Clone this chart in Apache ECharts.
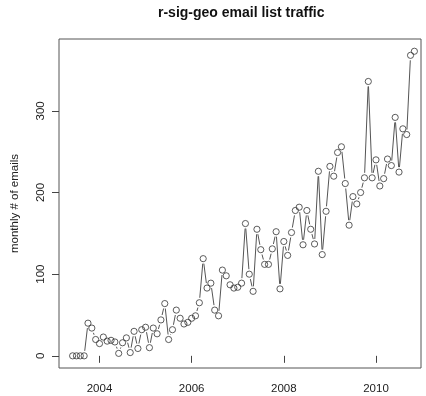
<!DOCTYPE html>
<html>
<head>
<meta charset="utf-8">
<script src="https://cdn.jsdelivr.net/npm/echarts@6/dist/echarts.min.js"></script>
<style>
  html, body { margin: 0; padding: 0; background: #fff; }
  #chart { width: 426px; height: 396px; }
</style>
</head>
<body>
<div id="chart"></div>
<script>
// Monthly message counts on the r-sig-geo list, June 2003 onwards
const startYear = 2003;
const startMonth = 6;
const emails = [
  0, 0, 0, 0, 40, 34, 20, 15, 23, 18, 19, 17, 3,
  16, 22, 4, 30, 9, 32, 35, 10, 34, 27, 44, 64, 20, 32, 56, 46,
  39, 41, 46, 49, 65, 119, 83, 89, 56, 49, 105, 98, 87, 83, 84,
  89, 162, 100, 79, 155, 130, 112, 112, 131, 152, 82, 140, 123, 151, 178, 182,
  136, 178, 155, 137, 226, 124, 177, 232, 220, 249, 256, 211, 160, 195,
  186, 200, 218, 336, 218, 240, 208, 217, 241, 233, 292, 225, 278, 271, 368, 373
];
const yearTicks = [2004, 2006, 2008, 2010];
const countTicks = [0, 100, 200, 300];

// decimal-year time index of each month
const times = emails.map((_, i) => startYear + (startMonth - 1 + i) / 12);
const points = emails.map((v, i) => [times[i], v]);

const FONT = '"Liberation Sans", Arial, Helvetica, sans-serif';
const INK = '#222';
const GAP = 5; // free space left around each point by the connecting segments

const chart = echarts.init(document.getElementById('chart'), null, { renderer: 'canvas' });

chart.setOption({
  animation: false,
  backgroundColor: '#fff',
  title: {
    text: 'r-sig-geo email list traffic',
    left: 158,
    top: 6,
    padding: 0,
    textStyle: { fontFamily: FONT, fontSize: 14, fontWeight: 'bold', color: '#111' }
  },
  grid: {
    left: 59, top: 39, right: 5, bottom: 28,
    show: true, borderColor: '#555', borderWidth: 1, backgroundColor: 'transparent'
  },
  xAxis: {
    type: 'value',
    min: 2003.121,
    max: 2010.977,
    axisLine: { show: false },
    splitLine: { show: false },
    axisTick: { show: true, inside: false, length: 7, customValues: yearTicks, lineStyle: { color: '#444', width: 1 } },
    axisLabel: {
      customValues: yearTicks, margin: 15, color: INK,
      fontFamily: FONT, fontSize: 11.5,
      formatter: v => String(v)
    }
  },
  yAxis: {
    type: 'value',
    min: -14.9,
    max: 388,
    name: 'monthly # of emails',
    nameLocation: 'middle',
    nameRotate: 90,
    nameGap: 38,
    nameTextStyle: { fontFamily: FONT, fontSize: 11.5, color: INK },
    axisLine: { show: false },
    splitLine: { show: false },
    axisTick: { show: true, inside: false, length: 7, customValues: countTicks, lineStyle: { color: '#444', width: 1 } },
    axisLabel: {
      customValues: countTicks, margin: 12, rotate: 90, color: INK,
      fontFamily: FONT, fontSize: 11.5,
      formatter: v => String(v)
    }
  },
  series: [
    {
      // segments between consecutive months, trimmed short of each point
      type: 'custom',
      data: points,
      encode: { x: 0, y: 1 },
      silent: true,
      renderItem: function (params, api) {
        const i = params.dataIndex;
        if (i >= points.length - 1) return null;
        const a = api.coord([api.value(0), api.value(1)]);
        const b = api.coord(points[i + 1]);
        const dx = b[0] - a[0], dy = b[1] - a[1];
        const len = Math.hypot(dx, dy);
        if (len <= 2 * GAP) return null;
        const ux = dx / len, uy = dy / len;
        return {
          type: 'line',
          shape: {
            x1: a[0] + ux * GAP, y1: a[1] + uy * GAP,
            x2: b[0] - ux * GAP, y2: b[1] - uy * GAP
          },
          style: { stroke: '#555', lineWidth: 1 }
        };
      },
      z: 2
    },
    {
      type: 'scatter',
      data: points,
      symbol: 'circle',
      symbolSize: 6.2,
      itemStyle: { color: 'rgba(0,0,0,0)', borderColor: '#333', borderWidth: 1 },
      silent: true,
      z: 3
    }
  ]
});
</script>
</body>
</html>
